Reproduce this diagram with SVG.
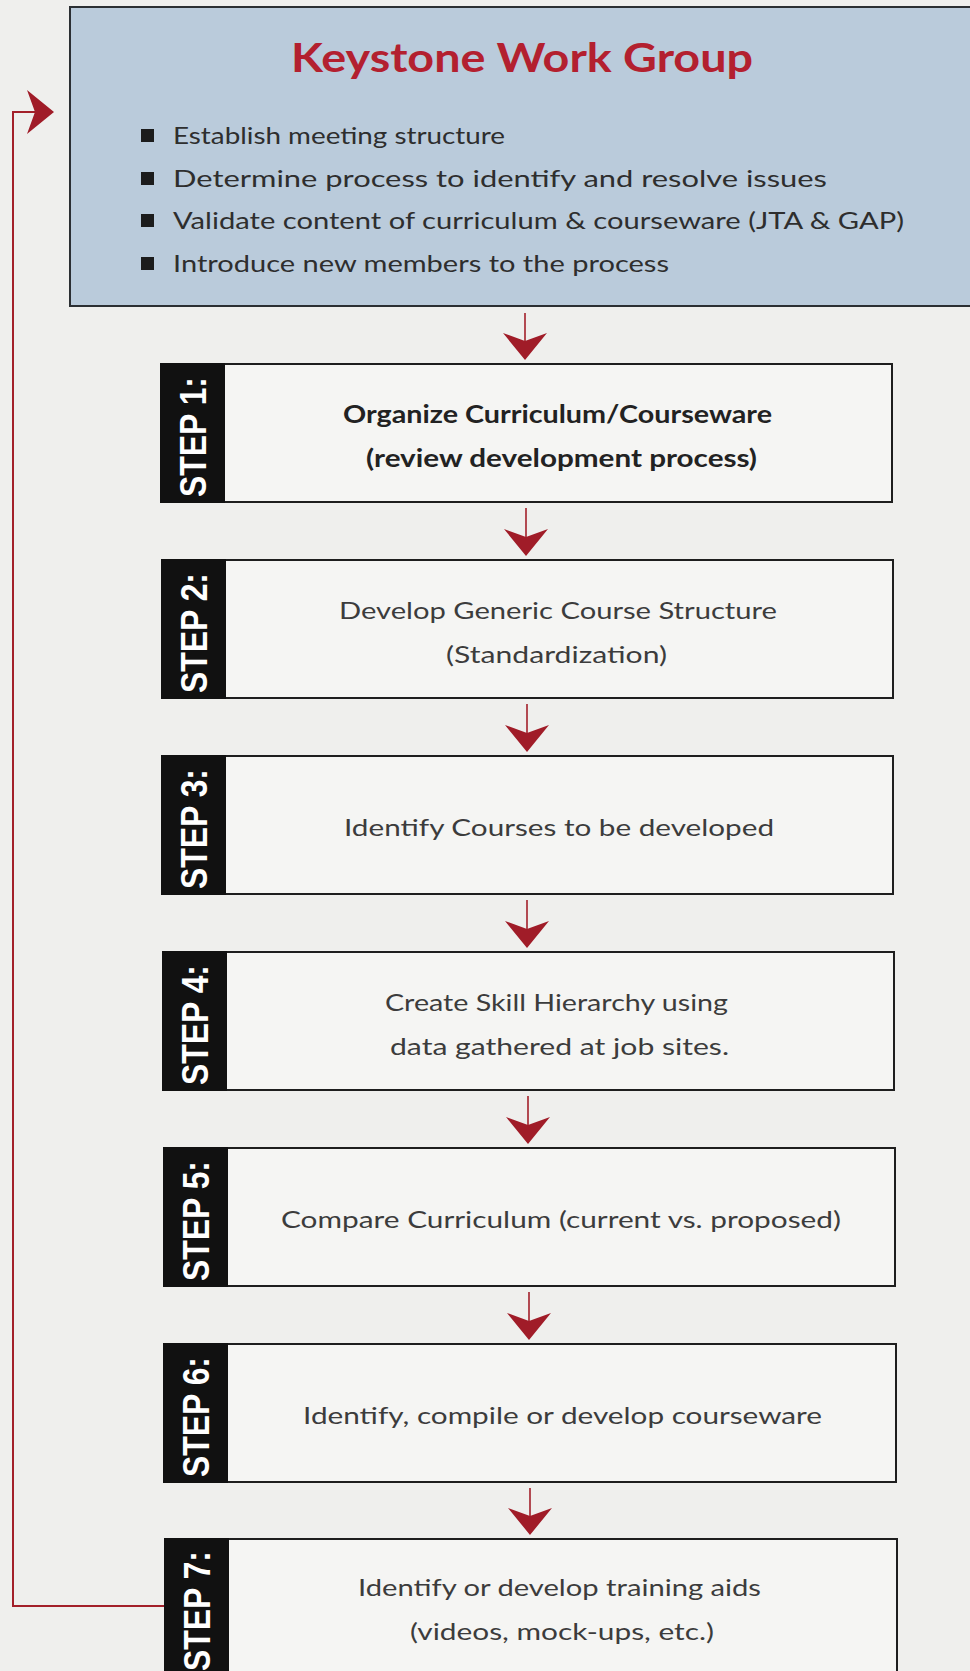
<svg xmlns="http://www.w3.org/2000/svg" width="970" height="1671" viewBox="0 0 970 1671">
  <defs>
    <style>
      .page { fill: #efefed; }
      .head { fill: #bacbdb; stroke: #2b2f33; stroke-width: 2; }
      .title { font-family: "Lato", "Open Sans", "DejaVu Sans", sans-serif; font-weight: 700; font-size: 40px; fill: #b3202f; }
      .bullet { fill: #1c1c1c; }
      .item { font-family: "Lato", "Open Sans", "DejaVu Sans", sans-serif; font-size: 23px; fill: #2e2e2e; }
      .box { fill: #f5f5f3; stroke: #1e1e1e; stroke-width: 2; }
      .band { fill: #111111; }
      .tag { font-family: "Liberation Sans", "DejaVu Sans", sans-serif; font-weight: 700; font-size: 36px; fill: #ffffff; }
      .txt { font-family: "Lato", "Open Sans", "DejaVu Sans", sans-serif; font-size: 24px; fill: #3c3c3c; }
      .txtb { font-family: "Lato", "Open Sans", "DejaVu Sans", sans-serif; font-weight: 700; font-size: 24px; fill: #222222; }
      .wire { fill: none; stroke: #a3202a; stroke-width: 1.6; }
      .loop { fill: none; stroke: #a3202a; stroke-width: 2; }
      .head-arrow { fill: #a01c28; }
    </style>
    <!-- arrowhead pointing down, tip at origin -->
    <path id="ah" d="M0,0 L-22,-27 L0,-19 L22,-27 Z"/>
  </defs>

  <rect class="page" x="0" y="0" width="970" height="1671"/>

  <!-- Header panel -->
  <g id="keystone">
    <rect class="head" x="70" y="7" width="920" height="299"/>
    <text class="title" x="291" y="72" textLength="462" lengthAdjust="spacingAndGlyphs">Keystone Work Group</text>
    <rect class="bullet" x="141" y="129" width="13" height="13"/>
    <text class="item" x="173" y="144" textLength="332" lengthAdjust="spacingAndGlyphs">Establish meeting structure</text>
    <rect class="bullet" x="141" y="172" width="13" height="13"/>
    <text class="item" x="173" y="187" textLength="654" lengthAdjust="spacingAndGlyphs">Determine process to identify and resolve issues</text>
    <rect class="bullet" x="141" y="214" width="13" height="13"/>
    <text class="item" x="173" y="229" textLength="731" lengthAdjust="spacingAndGlyphs">Validate content of curriculum &amp; courseware (JTA &amp; GAP)</text>
    <rect class="bullet" x="141" y="257" width="13" height="13"/>
    <text class="item" x="173" y="272" textLength="496" lengthAdjust="spacingAndGlyphs">Introduce new members to the process</text>
  </g>

  <!-- Steps -->
  <g id="step1">
    <rect class="box" x="161" y="364" width="731" height="138"/>
    <rect class="band" x="160" y="363" width="65" height="140"/>
    <text class="tag" transform="translate(206,437) rotate(-90)" text-anchor="middle" textLength="120" lengthAdjust="spacingAndGlyphs">STEP 1:</text>
    <text class="txtb" x="343" y="423" textLength="429" lengthAdjust="spacingAndGlyphs">Organize Curriculum/Courseware</text>
    <text class="txtb" x="366" y="467" textLength="391" lengthAdjust="spacingAndGlyphs">(review development process)</text>
  </g>

  <g id="step2">
    <rect class="box" x="162" y="560" width="731" height="138"/>
    <rect class="band" x="161" y="559" width="65" height="140"/>
    <text class="tag" transform="translate(207,633) rotate(-90)" text-anchor="middle" textLength="120" lengthAdjust="spacingAndGlyphs">STEP 2:</text>
    <text class="txt" x="339" y="619" textLength="438" lengthAdjust="spacingAndGlyphs">Develop Generic Course Structure</text>
    <text class="txt" x="446" y="663" textLength="221" lengthAdjust="spacingAndGlyphs">(Standardization)</text>
  </g>

  <g id="step3">
    <rect class="box" x="162" y="756" width="731" height="138"/>
    <rect class="band" x="161" y="755" width="65" height="140"/>
    <text class="tag" transform="translate(207,829) rotate(-90)" text-anchor="middle" textLength="120" lengthAdjust="spacingAndGlyphs">STEP 3:</text>
    <text class="txt" x="344" y="836" textLength="430" lengthAdjust="spacingAndGlyphs">Identify Courses to be developed</text>
  </g>

  <g id="step4">
    <rect class="box" x="163" y="952" width="731" height="138"/>
    <rect class="band" x="162" y="951" width="65" height="140"/>
    <text class="tag" transform="translate(208,1025) rotate(-90)" text-anchor="middle" textLength="120" lengthAdjust="spacingAndGlyphs">STEP 4:</text>
    <text class="txt" x="385" y="1011" textLength="343" lengthAdjust="spacingAndGlyphs">Create Skill Hierarchy using</text>
    <text class="txt" x="390" y="1055" textLength="339" lengthAdjust="spacingAndGlyphs">data gathered at job sites.</text>
  </g>

  <g id="step5">
    <rect class="box" x="164" y="1148" width="731" height="138"/>
    <rect class="band" x="163" y="1147" width="65" height="140"/>
    <text class="tag" transform="translate(209,1221) rotate(-90)" text-anchor="middle" textLength="120" lengthAdjust="spacingAndGlyphs">STEP 5:</text>
    <text class="txt" x="281" y="1228" textLength="560" lengthAdjust="spacingAndGlyphs">Compare Curriculum (current vs. proposed)</text>
  </g>

  <g id="step6">
    <rect class="box" x="164" y="1344" width="732" height="138"/>
    <rect class="band" x="163" y="1343" width="65" height="140"/>
    <text class="tag" transform="translate(209,1417) rotate(-90)" text-anchor="middle" textLength="120" lengthAdjust="spacingAndGlyphs">STEP 6:</text>
    <text class="txt" x="303" y="1424" textLength="519" lengthAdjust="spacingAndGlyphs">Identify, compile or develop courseware</text>
  </g>

  <g id="step7">
    <rect class="box" x="165" y="1539" width="732" height="170"/>
    <rect class="band" x="164" y="1538" width="65" height="172"/>
    <text class="tag" transform="translate(210,1611) rotate(-90)" text-anchor="middle" textLength="120" lengthAdjust="spacingAndGlyphs">STEP 7:</text>
    <text class="txt" x="358" y="1596" textLength="403" lengthAdjust="spacingAndGlyphs">Identify or develop training aids</text>
    <text class="txt" x="410" y="1640" textLength="304" lengthAdjust="spacingAndGlyphs">(videos, mock-ups, etc.)</text>
  </g>

  <!-- Connectors -->
  <g id="connectors">
    <path class="wire" d="M525,313 V342"/>
    <use href="#ah" class="head-arrow" transform="translate(525,360)"/>
    <path class="wire" d="M526,508 V538"/>
    <use href="#ah" class="head-arrow" transform="translate(526,556)"/>
    <path class="wire" d="M527,704 V734"/>
    <use href="#ah" class="head-arrow" transform="translate(527,752)"/>
    <path class="wire" d="M527,900 V930"/>
    <use href="#ah" class="head-arrow" transform="translate(527,948)"/>
    <path class="wire" d="M528,1096 V1126"/>
    <use href="#ah" class="head-arrow" transform="translate(528,1144)"/>
    <path class="wire" d="M529,1292 V1322"/>
    <use href="#ah" class="head-arrow" transform="translate(529,1340)"/>
    <path class="wire" d="M530,1488 V1517"/>
    <use href="#ah" class="head-arrow" transform="translate(530,1535)"/>

    <!-- loop back from the last step to the header -->
    <path class="loop" d="M164,1606 H13 V112 H40"/>
    <use href="#ah" class="head-arrow" transform="translate(54,112) rotate(-90)"/>
  </g>
</svg>
